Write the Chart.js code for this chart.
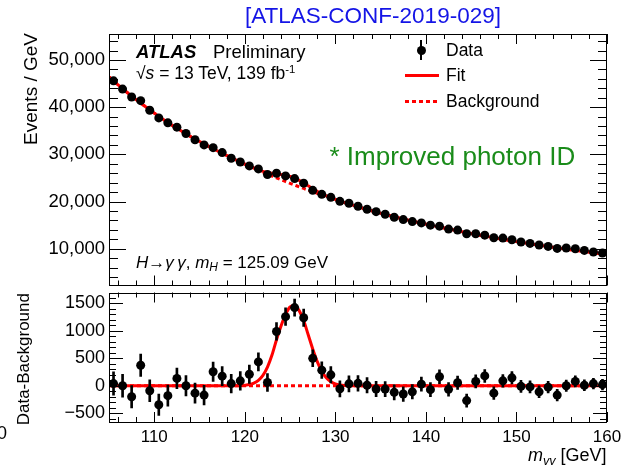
<!DOCTYPE html>
<html>
<head>
<meta charset="utf-8">
<script src="https://cdn.jsdelivr.net/npm/chart.js@4.4.1/dist/chart.umd.min.js"></script>
<style>
  html, body { margin: 0; padding: 0; background: #fff; }
  #wrap { position: relative; width: 621px; height: 465px; overflow: hidden;
          font-family: "Liberation Sans", Arial, sans-serif; color: #000; }
  canvas { position: absolute; left: 0; }
  #topChart { top: 0; }
  #botChart { top: 288px; }
  .lbl { position: absolute; white-space: nowrap; line-height: 1; }
  .rot { position: absolute; white-space: nowrap; line-height: 1; width: 300px; text-align: right;
         transform-origin: 0 0; transform: rotate(-90deg); }
  sub { font-size: 70%; vertical-align: baseline; position: relative; top: 0.3em; }
  sup { font-size: 65%; vertical-align: baseline; position: relative; top: -0.55em; }
  .legline { position: absolute; height: 3px; width: 34px; }
</style>
</head>
<body>
<div id="wrap">
  <canvas id="topChart" width="621" height="290"></canvas>
  <canvas id="botChart" width="621" height="177"></canvas>

  <div class="lbl" id="title" style="color:#1414e6;font-size:22.5px;">[ATLAS-CONF-2019-029]</div>
  <div class="lbl" id="atlas" style="font-size:18.5px;"><b><i>ATLAS</i></b></div>
  <div class="lbl" id="prelim" style="font-size:18.5px;">Preliminary</div>
  <div class="lbl" id="energy" style="font-size:17.5px;">&radic;<i>s</i> = 13 TeV, 139 fb<sup>-1</sup></div>
  <div class="lbl" id="channel" style="font-size:17px;"><i>H</i>&rarr;<i>&gamma;&thinsp;&gamma;</i>, <i>m</i><sub><i>H</i></sub> = 125.09 GeV</div>
  <div class="lbl" id="improved" style="color:#1a8c1a;font-size:26px;">* Improved photon ID</div>
  <div class="lbl" id="legData" style="font-size:17.5px;">Data</div>
  <div class="lbl" id="legFit" style="font-size:17.5px;">Fit</div>
  <div class="lbl" id="legBkg" style="font-size:17.5px;">Background</div>
  <div class="lbl" id="xTitle" style="font-size:18px;"><i>m</i><sub><i>&gamma;&gamma;</i></sub> [GeV]</div>
  <div class="lbl" id="stray" style="font-size:18px;">0</div>
  <div class="rot" id="yTopTitle" style="font-size:19px;">Events / GeV</div>
  <div class="rot" id="yBotTitle" style="font-size:17px;">Data-Background</div>

  <!-- legend symbols -->
  <div style="position:absolute;left:420px;top:40px;width:2px;height:20px;background:#000;"></div>
  <div style="position:absolute;left:416.5px;top:45.5px;width:9px;height:9px;border-radius:50%;background:#000;"></div>
  <div class="legline" style="left:405px;top:74px;background:#f00;"></div>
  <div class="legline" style="left:405px;top:100px;background:repeating-linear-gradient(90deg,#f00 0 4px,transparent 4px 7px);"></div>
</div>

<script>
/* ---------- data ---------- */
const massBins = [
  105.5, 106.5, 107.5, 108.5, 109.5, 110.5, 111.5, 112.5, 113.5, 114.5,
  115.5, 116.5, 117.5, 118.5, 119.5, 120.5, 121.5, 122.5, 123.5, 124.5,
  125.5, 126.5, 127.5, 128.5, 129.5, 130.5, 131.5, 132.5, 133.5, 134.5,
  135.5, 136.5, 137.5, 138.5, 139.5, 140.5, 141.5, 142.5, 143.5, 144.5,
  145.5, 146.5, 147.5, 148.5, 149.5, 150.5, 151.5, 152.5, 153.5, 154.5,
  155.5, 156.5, 157.5, 158.5, 159.5
];

const dataEvents = [
  45580, 43830, 42150, 41370, 39330, 37720, 36670, 35750, 34420, 33090,
  32000, 31410, 30360, 29160, 28380, 27540, 26910, 25730, 26000, 25430,
  24850, 23890, 22360, 21520, 20880, 20040, 19620, 18990, 18360, 17850,
  17300, 16670, 16170, 15750, 15470, 14990, 14780, 14150, 13940, 13160,
  13160, 12870, 12320, 12250, 11890, 11410, 11120, 10780, 10480, 10060,
  10150, 10000, 9640, 9300, 9090
];

const dataErrors = [
  213, 209, 205, 203, 198, 194, 191, 189, 186, 182,
  179, 177, 174, 171, 168, 166, 164, 161, 161, 159,
  157, 156, 153, 151, 149, 147, 145, 143, 141, 140,
  138, 136, 133, 131, 129, 127, 125, 123, 122, 120,
  118, 117, 115, 114, 113, 111, 109, 108, 107, 106,
  103, 102, 100, 98, 96
];

const residuals = [
  40, 0, -200, 375, -90, -345, -180, 135, 0, -135,
  -170, 255, 175, 40, 90, 210, 435, 60, 990, 1260,
  1425, 1240, 500, 285, 200, -55, 35, 45, 10, -60,
  -60, -120, -150, -110, 30, -70, 165, -65, 55, -270,
  80, 180, -135, 90, 145, -10, -20, -110, -25, -170,
  0, 80, 10, 40, 20
];

// fit curves
const curveMass = [
  105, 106, 107, 108, 109, 110, 111, 112, 113, 114, 115, 116, 117, 118,
  118.5, 119, 119.5, 120, 120.5, 121, 121.5, 122, 122.5, 123, 123.5, 124, 124.5, 125,
  125.5, 126, 126.5, 127, 127.5, 128, 128.5, 129, 129.5, 130, 130.5, 131, 131.5, 132,
  133, 134, 135, 136, 137, 138, 139, 140, 141, 142, 143, 144, 145, 146,
  147, 148, 149, 150, 151, 152, 153, 154, 155, 156, 157, 158, 159, 160
];

const bkgCurve = [
  46400, 44710, 43110, 41590, 40130, 38730, 37390, 36130, 34930, 33790, 32710, 31680, 30700, 29750,
  29285, 28820, 28370, 27920, 27485, 27050, 26630, 26210, 25805, 25400, 25010, 24615, 24235, 23855,
  23490, 23120, 22765, 22410, 22065, 21720, 21385, 21050, 20725, 20400, 20085, 19770, 19470, 19175,
  18605, 18055, 17525, 17015, 16535, 16075, 15630, 15200, 14785, 14380, 13985, 13600, 13225, 12860,
  12505, 12160, 11825, 11500, 11190, 10890, 10600, 10320, 10050, 9790, 9535, 9285, 9045, 8810
];

const sigCurve = [
  0, 0, 0, 0, 0, 0, 0, 0, 0, 0, 0, 0, 0, 0,
  0, 2, 4, 10, 22, 50, 100, 190, 340, 560, 840, 1090, 1300, 1440,
  1465, 1370, 1190, 930, 670, 440, 265, 145, 75, 35, 15, 5, 2, 0,
  0, 0, 0, 0, 0, 0, 0, 0, 0, 0, 0, 0, 0, 0,
  0, 0, 0, 0, 0, 0, 0, 0, 0, 0, 0, 0, 0, 0
];

const xTicks = [110, 120, 130, 140, 150, 160];
const yTopTicks = [10000, 20000, 30000, 40000, 50000];
const yBotTicks = [-500, 0, 500, 1000, 1500];

/* ---------- text placement ---------- */
function putText(id, x, baseline, size, align) {
  const el = document.getElementById(id);
  el.style.top = (baseline - 0.846 * size) + "px";
  if (align === "right") el.style.left = (x - el.offsetWidth) + "px";
  else if (align === "center") el.style.left = (x - el.offsetWidth / 2) + "px";
  else el.style.left = x + "px";
}
putText("title", 373, 24, 22.5, "center");
putText("atlas", 136, 58.3, 18.5);
putText("prelim", 213, 58.3, 18.5);
putText("energy", 136, 80, 17.5);
putText("channel", 136, 268.3, 17);
putText("improved", 329.5, 165, 26);
putText("legData", 446, 56.5, 17.5);
putText("legFit", 446, 81.5, 17.5);
putText("legBkg", 446, 107.5, 17.5);
putText("xTitle", 607, 461.7, 18, "right");
putText("stray", -3, 439, 18);

function putRot(id, baselineX, topY, size) {
  const el = document.getElementById(id);
  el.style.left = (baselineX - 0.846 * size) + "px";
  el.style.top = (topY + 300) + "px";
}
putRot("yTopTitle", 37, 33, 19);
putRot("yBotTitle", 29.5, 293, 17);

/* ---------- ROOT-like frame with inward ticks ---------- */
const insideTicks = {
  id: "insideTicks",
  afterDraw(chart, args, o) {
    const { ctx, chartArea: a } = chart;
    const xs = chart.scales.x, ys = chart.scales.y;
    ctx.save();
    ctx.strokeStyle = "#000";
    ctx.lineWidth = 1;
    ctx.beginPath();
    for (let v = Math.ceil(xs.min / o.xStep) * o.xStep; v <= xs.max + 1e-6; v += o.xStep) {
      const px = Math.round(xs.getPixelForValue(v)) + 0.5;
      const len = Math.abs(v % o.xMajor) < 1e-6 ? o.xLong : o.xShort;
      ctx.moveTo(px, a.bottom); ctx.lineTo(px, a.bottom - len);
      ctx.moveTo(px, a.top); ctx.lineTo(px, a.top + len);
    }
    for (let v = Math.ceil(ys.min / o.yStep) * o.yStep; v <= ys.max + 1e-6; v += o.yStep) {
      const py = Math.round(ys.getPixelForValue(v)) + 0.5;
      const len = Math.abs(v % o.yMajor) < 1e-6 ? o.yLong : o.yShort;
      ctx.moveTo(a.left, py); ctx.lineTo(a.left + len, py);
      ctx.moveTo(a.right, py); ctx.lineTo(a.right - len, py);
    }
    ctx.stroke();
    ctx.strokeRect(Math.round(a.left) + 0.5, Math.round(a.top) + 0.5,
                   Math.round(a.right - a.left) - 1, Math.round(a.bottom - a.top) - 1);
    ctx.restore();
  }
};

const tickFont = { family: "'Liberation Sans', Arial, sans-serif" };

function errorBars(values, errs) {
  return massBins.map((m, i) => ({ x: m, y: [values[i] - errs[i], values[i] + errs[i]] }));
}

/* ---------- upper panel ---------- */
new Chart(document.getElementById("topChart"), {
  type: "scatter",
  data: {
    datasets: [
      {
        type: "scatter",
        data: massBins.map((m, i) => ({ x: m, y: dataEvents[i] })),
        pointRadius: 4.5,
        pointBackgroundColor: "#000",
        pointBorderWidth: 0,
        order: 0,
      },
      {
        type: "bar",
        data: errorBars(dataEvents, dataErrors),
        backgroundColor: "#000",
        barThickness: 2,
        grouped: false,
        order: 1,
      },
      {
        type: "line",
        data: curveMass.map((m, i) => ({ x: m, y: bkgCurve[i] + sigCurve[i] })),
        borderColor: "#f00",
        borderWidth: 3,
        pointRadius: 0,
        cubicInterpolationMode: "monotone",
        order: 2,
      },
      {
        type: "line",
        data: curveMass.map((m, i) => ({ x: m, y: bkgCurve[i] })),
        borderColor: "#f00",
        borderWidth: 3,
        borderDash: [4, 3],
        pointRadius: 0,
        cubicInterpolationMode: "monotone",
        order: 3,
      },
    ],
  },
  options: {
    responsive: false,
    animation: false,
    events: [],
    layout: { padding: { top: 34, right: 14, bottom: 3, left: 0 } },
    plugins: {
      legend: { display: false },
      tooltip: { enabled: false },
      insideTicks: { xStep: 2, xMajor: 10, xLong: 10, xShort: 5,
                     yStep: 2000, yMajor: 10000, yLong: 17, yShort: 9 },
    },
    scales: {
      x: { type: "linear", min: 105, max: 160, offset: false, display: false },
      y: {
        min: 2200,
        max: 55500,
        grid: { display: false, drawTicks: false },
        border: { display: false },
        afterBuildTicks: (s) => { s.ticks = yTopTicks.map((v) => ({ value: v })); },
        afterFit: (s) => { s.width = 109; s.paddingTop = 0; s.paddingBottom = 0; },
        ticks: { color: "#000", padding: 4, font: { ...tickFont, size: 18.5 } },
      },
    },
  },
  plugins: [insideTicks],
});

/* ---------- lower panel ---------- */
new Chart(document.getElementById("botChart"), {
  type: "scatter",
  data: {
    datasets: [
      {
        type: "scatter",
        data: massBins.map((m, i) => ({ x: m, y: residuals[i] })),
        pointRadius: 4.5,
        pointBackgroundColor: "#000",
        pointBorderWidth: 0,
        order: 0,
      },
      {
        type: "bar",
        data: errorBars(residuals, dataErrors),
        backgroundColor: "#000",
        barThickness: 2,
        grouped: false,
        order: 1,
      },
      {
        type: "line",
        data: curveMass.map((m, i) => ({ x: m, y: sigCurve[i] })),
        borderColor: "#f00",
        borderWidth: 3,
        pointRadius: 0,
        cubicInterpolationMode: "monotone",
        order: 2,
      },
      {
        type: "line",
        data: curveMass.map((m) => ({ x: m, y: 0 })),
        borderColor: "#f00",
        borderWidth: 3,
        borderDash: [4, 3],
        pointRadius: 0,
        order: 3,
      },
    ],
  },
  options: {
    responsive: false,
    animation: false,
    events: [],
    layout: { padding: { top: 3, right: 14, bottom: 0, left: 0 } },
    plugins: {
      legend: { display: false },
      tooltip: { enabled: false },
      insideTicks: { xStep: 2, xMajor: 10, xLong: 10, xShort: 5,
                     yStep: 100, yMajor: 500, yLong: 14, yShort: 7 },
    },
    scales: {
      x: {
        type: "linear",
        min: 105,
        max: 160,
        offset: false,
        grid: { display: false, drawTicks: false },
        border: { display: false },
        afterBuildTicks: (s) => { s.ticks = xTicks.map((v) => ({ value: v })); },
        afterFit: (s) => { s.height = 43; s.paddingLeft = 0; s.paddingRight = 0; },
        ticks: { color: "#000", padding: 5, maxRotation: 0, font: { ...tickFont, size: 17 } },
      },
      y: {
        min: -660,
        max: 1700,
        grid: { display: false, drawTicks: false },
        border: { display: false },
        afterBuildTicks: (s) => { s.ticks = yBotTicks.map((v) => ({ value: v })); },
        afterFit: (s) => { s.width = 109; s.paddingTop = 0; s.paddingBottom = 0; },
        ticks: {
          color: "#000",
          padding: 4,
          font: { ...tickFont, size: 18 },
          callback: (v) => (v < 0 ? "\u2212" + Math.abs(v) : String(v)),
        },
      },
    },
  },
  plugins: [insideTicks],
});
</script>
</body>
</html>
